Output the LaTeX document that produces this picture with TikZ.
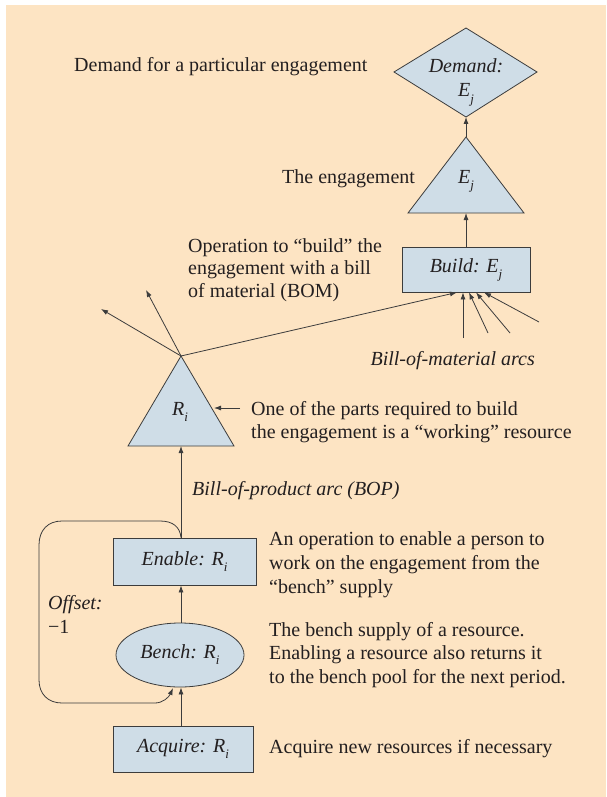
\documentclass[tikz,border=0pt]{standalone}
\usepackage{fontspec}
\setmainfont{Liberation Serif}
\usetikzlibrary{arrows.meta,shapes.geometric}
\definecolor{bg}{HTML}{FDE4C3}
\definecolor{shp}{HTML}{CFDDE7}
\definecolor{ink}{HTML}{231F20}
\definecolor{ln}{HTML}{3C3C3C}
\newcommand\sbj[1]{\raisebox{-0.3em}{\fontsize{13}{14}\selectfont\itshape #1}}
\begin{document}
\begin{tikzpicture}[x=1pt,y=-1pt,
  font=\fontsize{20}{24}\selectfont, text=ink,
  box/.style={draw=ln, fill=shp, line width=0.8pt, inner sep=0pt, font=\fontsize{20}{24}\selectfont\itshape},
  shapeline/.style={draw=ln, fill=shp, line width=0.8pt, line join=miter},
  lbl/.style={anchor=base west, inner sep=0pt, align=left},
  arr/.style={draw=ln, line width=0.8pt, -{Latex[length=7pt,width=5pt]}},
  plain/.style={draw=ln, line width=0.8pt}]
\useasboundingbox (0,0) rectangle (606,797);
\fill[bg] (6,5) rectangle (606,797);

% Demand diamond
\draw[shapeline] (466,28) -- (537,72) -- (466,117) -- (394,72) -- cycle;
\coordinate (dmdB) at (466,117);
\node[anchor=base, inner sep=0pt, align=center, font=\fontsize{20}{24}\selectfont\itshape] (dmdT) at (466,97) {Demand:\\E\sbj{j}};

% Engagement triangle
\draw[shapeline] (466,137) -- (524,213) -- (408,213) -- cycle;
\coordinate (etop) at (466,137);
\coordinate (ebase) at (466,213);
\node[anchor=base, inner sep=0pt, font=\fontsize{20}{24}\selectfont\itshape] (eT) at (466,183) {E\sbj{j}};

% Build box
\node[box, minimum width=128pt, minimum height=45pt] (build) at (466,269.5) {Build: E\sbj{j}};

% Resource triangle
\draw[shapeline] (181,356) -- (234,446) -- (128,446) -- cycle;
\coordinate (rtop) at (181,356);
\coordinate (rbase) at (181,446);
\node[anchor=base, inner sep=0pt, font=\fontsize{20}{24}\selectfont\itshape] (rT) at (180,415) {R\sbj{i}};

% Enable, Bench, Acquire
\node[box, minimum width=143pt, minimum height=47pt] (enable) at (184.5,561.5) {Enable: R\sbj{i}};
\node[box, ellipse, minimum width=128pt, minimum height=64pt] (bench) at (180,655) {Bench: R\sbj{i}};
\node[box, minimum width=140pt, minimum height=46pt] (acquire) at (183,749) {Acquire: R\sbj{i}};

% vertical connectors
\draw[arr] (etop) -- (dmdB);
\draw[arr] (build.north) -- (ebase);
\draw[arr] (rbase |- enable.north) -- (rbase);
\draw[arr] (rbase |- bench.north) -- (rbase |- enable.south);
\draw[arr] (rbase |- acquire.north) -- (rbase |- bench.south);

% bill-of-material arcs
\coordinate (bm1) at (463,338);
\coordinate (bm2) at (488,333);
\coordinate (bm3) at (510,333);
\coordinate (bm4) at (539,322);
\draw[arr] (rtop) -- ([xshift=-9pt]build.south);
\draw[arr] (bm1) -- ([xshift=-3pt]build.south);
\draw[arr] (bm2) -- ([xshift=3pt]build.south);
\draw[arr] (bm3) -- ([xshift=10pt]build.south);
\draw[arr] (bm4) -- ([xshift=18pt]build.south);

% outgoing arcs from resource
\coordinate (ra1) at (101,309);
\coordinate (ra2) at (146,290);
\draw[arr] (rtop) -- (ra1);
\draw[arr] (rtop) -- (ra2);

% pointer to resource triangle
\coordinate (ptail) at (240,408);
\coordinate (ptip) at (214,408);
\draw[arr] (ptail) -- (ptip);

% offset loop
\coordinate (loopend) at (173,688);
\draw[arr] (rbase |- enable.north) .. controls (180,527) and (173,521) .. (160,521)
  -- (62,521) .. controls (48,521) and (39,530) .. (39,545)
  -- (39,680) .. controls (39,694) and (48,703) .. (62,703)
  -- (155,703) .. controls (163,703) and (169,697) .. (loopend);

% texts (multi-line nodes: base anchor is the last line's baseline)
\node[lbl] (t1) at (74,72) {Demand for a particular engagement};
\node[lbl] (t2) at (282,183) {The engagement};
\node[lbl, font=\fontsize{20}{22.5}\selectfont] (t3) at (188,297) {Operation to “build” the\\engagement with a bill\\of material (BOM)};
\node[anchor=base east, inner sep=0pt, font=\fontsize{20}{24}\selectfont\itshape] (t4) at (535,365) {Bill-of-material arcs};
\node[lbl, font=\fontsize{20}{23}\selectfont] (t5) at (251,438) {One of the parts required to build\\the engagement is a “working” resource};
\node[lbl, font=\fontsize{20}{24}\selectfont\itshape] (t6) at (192,495) {Bill-of-product arc (BOP)};
\node[lbl, font=\fontsize{20}{24}\selectfont] (t7) at (269,593) {An operation to enable a person to\\work on the engagement from the\\“bench” supply};
\node[lbl, font=\fontsize{20}{23.5}\selectfont] (t8) at (269,683) {The bench supply of a resource.\\Enabling a resource also returns it\\to the bench pool for the next period.};
\node[lbl] (t9) at (269,753) {Acquire new resources if necessary};
\node[lbl, font=\fontsize{20}{24}\selectfont] (t10) at (48,633) {\textit{Offset:}\\−1};
\end{tikzpicture}
\end{document}
